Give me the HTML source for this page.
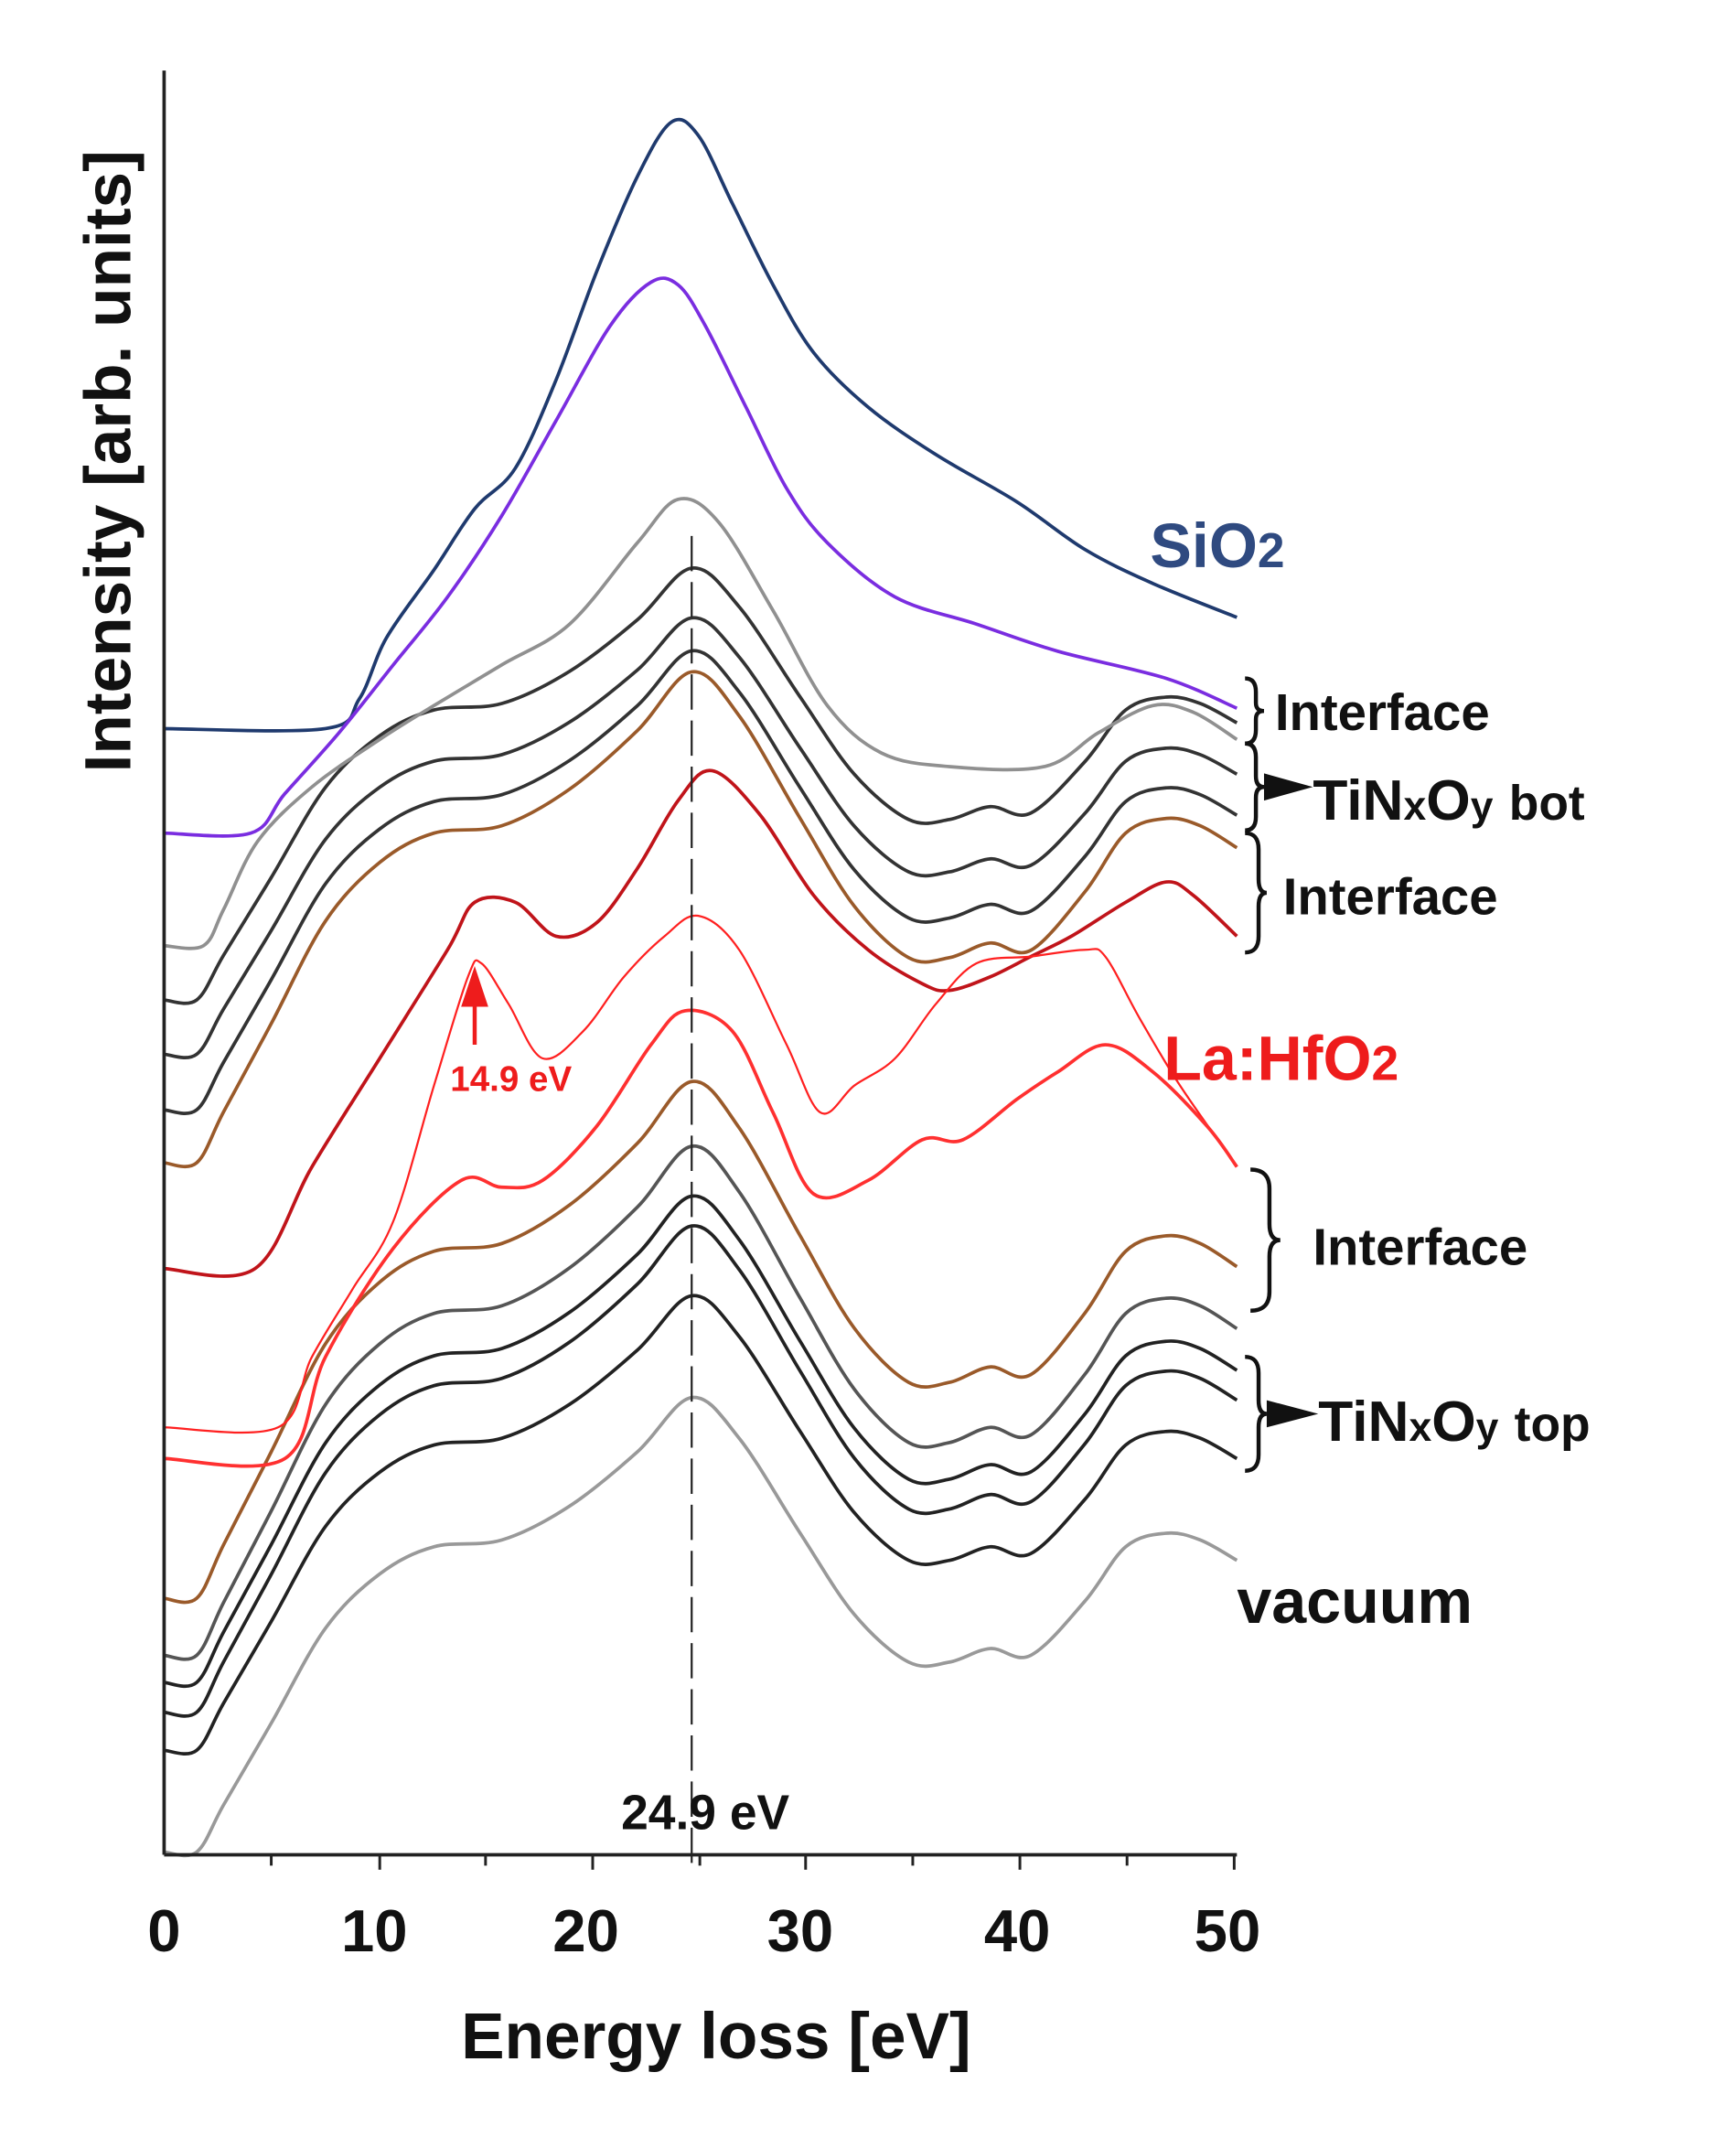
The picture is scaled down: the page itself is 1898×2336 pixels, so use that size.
<!DOCTYPE html>
<html><head><meta charset="utf-8"><style>
html,body{margin:0;padding:0;background:#fff;}
svg{display:block;}
text{font-family:"Liberation Sans",sans-serif;font-weight:bold;}
</style></head><body>
<svg id="s" width="1898" height="2336" viewBox="0 0 1280 1575" preserveAspectRatio="none" xmlns="http://www.w3.org/2000/svg">
<rect width="1280" height="1575" fill="#fff"/>
<g id="curves" fill="none" stroke-linejoin="round"></g>
<line x1="510" y1="395" x2="510" y2="1375" stroke="#222" stroke-width="1.5" stroke-dasharray="26,8"/>
<line x1="121" y1="52" x2="121" y2="1367" stroke="#222" stroke-width="2.5"/>
<line x1="121" y1="1367" x2="912" y2="1367" stroke="#222" stroke-width="2.5"/>
<g stroke="#222" stroke-width="2">
<line x1="200" y1="1367" x2="200" y2="1375"/><line x1="280" y1="1367" x2="280" y2="1378"/>
<line x1="358" y1="1367" x2="358" y2="1375"/><line x1="437" y1="1367" x2="437" y2="1378"/>
<line x1="516" y1="1367" x2="516" y2="1375"/><line x1="594" y1="1367" x2="594" y2="1378"/>
<line x1="673" y1="1367" x2="673" y2="1375"/><line x1="752" y1="1367" x2="752" y2="1378"/>
<line x1="831" y1="1367" x2="831" y2="1375"/><line x1="910" y1="1367" x2="910" y2="1378"/>
</g>
<g font-size="44" fill="#111" text-anchor="middle">
<text x="121" y="1438">0</text><text x="276" y="1438">10</text><text x="432" y="1438">20</text>
<text x="590" y="1438">30</text><text x="750" y="1438">40</text><text x="905" y="1438">50</text>
</g>
<text x="528" y="1517" font-size="48" text-anchor="middle" fill="#111">Energy loss [eV]</text>
<text transform="translate(96,340) rotate(-90)" font-size="48" text-anchor="middle" fill="#111">Intensity [arb. units]</text>
<text x="848" y="418" font-size="46" fill="#2f4a80">SiO<tspan font-size="36">2</tspan></text>
<text x="858" y="796" font-size="46" fill="#ee1c1c">La:HfO<tspan font-size="36">2</tspan></text>
<text x="332" y="804" font-size="26" fill="#ee1c1c">14.9 eV</text>
<line x1="350" y1="770" x2="350" y2="728" stroke="#ee1c1c" stroke-width="3"/>
<polygon points="340,742 350,712 360,742" fill="#ee1c1c"/>
<text x="458" y="1348" font-size="36" fill="#111">24.9 eV</text>
<g font-size="38" fill="#111">
<text x="940" y="538">Interface</text>
<text x="968" y="604" font-size="42">TiN<tspan font-size="30">x</tspan>O<tspan font-size="30">y</tspan> <tspan font-size="36">bot</tspan></text>
<text x="946" y="674">Interface</text>
<text x="968" y="932">Interface</text>
<text x="972" y="1062" font-size="42">TiN<tspan font-size="30">x</tspan>O<tspan font-size="30">y</tspan> <tspan font-size="36">top</tspan></text>
<text x="912" y="1196" font-size="46">vacuum</text>
</g>
<g fill="none" stroke="#111" stroke-width="3">
<path d="M918,500 q8,0 8,10 v8 q0,6 6,6 q-6,0 -6,6 v8 q0,10 -8,10"/>
<path d="M918,548 q8,0 8,10 v14 q0,8 6,8 q-6,0 -6,8 v14 q0,10 -8,10"/>
<path d="M918,614 q10,0 10,12 v22 q0,10 6,10 q-6,0 -6,10 v22 q0,12 -10,12"/>
<path d="M922,862 q14,0 14,14 v26 q0,12 8,12 q-8,0 -8,12 v26 q0,14 -14,14"/>
<path d="M918,1000 q10,0 10,12 v20 q0,10 6,10 q-6,0 -6,10 v20 q0,12 -10,12"/>
</g>
<polygon points="932,570 968,580 932,590" fill="#111"/>
<polygon points="934,1032 972,1042 934,1052" fill="#111"/>
</svg>
<script>
function cr(p){var d="M"+p[0][0]+","+p[0][1];for(var i=0;i<p.length-1;i++){var a=p[i-1]||p[i],b=p[i],c=p[i+1],e=p[i+2]||c;
d+=" C"+(b[0]+(c[0]-a[0])/6)+","+(b[1]+(c[1]-a[1])/6)+" "+(c[0]-(e[0]-b[0])/6)+","+(c[1]-(e[1]-b[1])/6)+" "+c[0]+","+c[1];}return d;}
var g=document.getElementById("curves");
function add(p,col,w){var e=document.createElementNS("http://www.w3.org/2000/svg","path");e.setAttribute("d",cr(p));e.setAttribute("stroke",col);e.setAttribute("stroke-width",w);g.appendChild(e);}
var vac=[[121,1365],[145,1365],[165,1330],[200,1270],[240,1200],[280,1160],[320,1140],[370,1135],[420,1110],[470,1070],[510,1030],[545,1060],[590,1130],[630,1190],[670,1225],[700,1225],[730,1215],[760,1220],[800,1180],[830,1140],[860,1130],[885,1135],[912,1150]];
function sh(f,k){return vac.map(function(q){return [q[0],f+(q[1]-1365)*k];});}
add(vac,"#999",2.5);
add(sh(1290,1.0),"#222",2.5);
add(sh(1262,1.07),"#222",2.5);
add(sh(1240,1.07),"#222",2.5);
add(sh(1220,1.12),"#555",2.5);
add(sh(1178,1.137),"#9a5a2a",2.5);
add(sh(737,0.95),"#333",2.5);
add(sh(777,0.96),"#333",2.5);
add(sh(818,1.01),"#333",2.5);
add(sh(857,1.08),"#9a5a2a",2.5);
add([[121,697],[150,697],[165,670],[190,620],[230,580],[280,545],[320,520],[370,490],[420,460],[470,400],[500,368],[530,385],[570,450],[610,520],[650,555],[700,565],[770,565],[810,540],[850,520],[880,525],[912,545]],"#909090",2.5);
add([[121,537],[240,537],[265,515],[285,470],[320,420],[350,375],[380,345],[410,280],[440,200],[470,130],[495,90],[515,100],[540,150],[570,210],[600,260],[640,300],[690,335],[750,370],[800,405],[850,430],[912,455]],"#1f3a6e",2.5);
add([[121,614],[185,614],[210,585],[250,540],[290,490],[330,440],[370,380],[410,310],[450,240],[480,208],[500,210],[520,240],[550,300],[580,360],[610,400],[660,440],[720,460],[780,480],[860,500],[912,522]],"#7a2de0",2.5);
add([[121,935],[188,935],[230,860],[280,780],[330,700],[350,665],[380,665],[410,690],[440,680],[470,640],[500,590],[525,568],[560,600],[600,660],[640,700],[680,725],[700,730],[730,720],[760,705],[790,690],[830,665],[860,650],[880,660],[912,690]],"#c0141a",2.5);
add([[121,1052],[205,1052],[230,1000],[260,950],[290,900],[320,800],[345,720],[355,710],[375,740],[400,780],[430,760],[460,720],[490,690],[515,675],[545,700],[580,770],[605,820],[630,800],[660,780],[690,740],[720,710],[760,705],[800,700],[815,705],[840,750],[870,800],[912,860]],"#ff2020",1.5);
add([[121,1075],[210,1075],[240,1000],[290,920],[340,870],[370,875],[400,870],[440,830],[480,770],[505,745],[540,760],[570,820],[600,880],[640,870],[680,840],[710,840],[750,810],[780,790],[815,770],[850,790],[890,830],[912,860]],"#ff3030",2.5);
</script>
</body></html>
